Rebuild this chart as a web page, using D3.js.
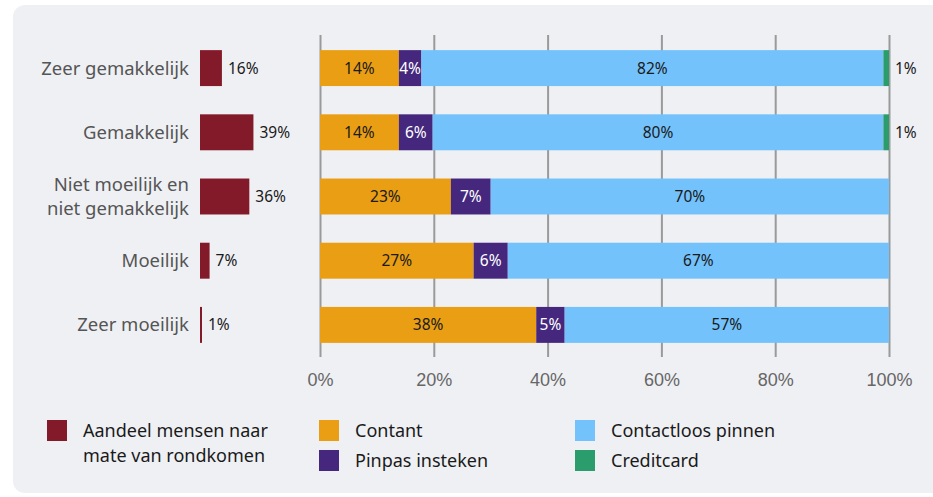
<!DOCTYPE html>
<html>
<head>
<meta charset="utf-8">
<script src="https://cdn.jsdelivr.net/npm/d3@7"></script>
<style>
  body { margin: 0; background: #fff; }
  svg { display: block; font-family: "Noto Sans", sans-serif; }
</style>
</head>
<body>
<svg id="chart" width="933" height="497"></svg>
<script>
// categories (top to bottom)
var categories = [
  ["Zeer gemakkelijk"],
  ["Gemakkelijk"],
  ["Niet moeilijk en", "niet gemakkelijk"],
  ["Moeilijk"],
  ["Zeer moeilijk"]
];

// share of people per category
var aandeel = [16, 39, 36, 7, 1];

// payment method shares per category
var contant = [14, 14, 23, 27, 38];
var pinpas = [4, 6, 7, 6, 5];
var contactloos = [82, 80, 70, 67, 57];
var creditcard = [1, 1, 0, 0, 0];

var xTicks = [0, 20, 40, 60, 80, 100];

var seriesNames = ["Contant", "Pinpas insteken", "Contactloos pinnen", "Creditcard"];
var seriesColors = ["#e99e14", "#45287e", "#73c2fb", "#2b9c6c"];
var seriesText = ["#1a1a1a", "#ffffff", "#1a1a1a", "#1a1a1a"];
var aandeelColor = "#831a2a";

document.addEventListener("DOMContentLoaded", () => {
  var svg = d3.select("#chart");

  // background panel
  svg.append("rect")
    .attr("x", 13).attr("y", 5)
    .attr("width", 940).attr("height", 488)
    .attr("rx", 12)
    .attr("fill", "#eff0f4");

  var idx = d3.range(categories.length);

  var y = d3.scaleBand()
    .domain(idx)
    .range([36, 357])
    .paddingInner(0.44)
    .paddingOuter(0.22);

  var x = d3.scaleLinear().domain([0, 100]).range([320, 889]);
  var xA = d3.scaleLinear().domain([0, 100]).range([200, 337]);

  // gridlines + axis
  var axis = d3.axisBottom(x)
    .tickValues(xTicks)
    .tickSize(322)
    .tickFormat(d => d + "%");

  var ax = svg.append("g")
    .attr("transform", "translate(0,35)")
    .call(axis);
  ax.select(".domain").remove();
  ax.selectAll(".tick line").attr("stroke", "#9a9a9a").attr("stroke-width", 2);
  ax.selectAll(".tick text")
    .attr("y", 345)
    .attr("dy", "0.35em")
    .attr("fill", "#666")
    .style("font-size", "18px");

  // category labels
  var catG = svg.append("g");
  idx.forEach(i => {
    var lines = categories[i];
    var cy = y(i) + y.bandwidth() / 2;
    var t = catG.append("text")
      .attr("text-anchor", "end")
      .attr("fill", "#555")
      .style("font-size", "18.5px");
    lines.forEach((l, j) => {
      t.append("tspan")
        .attr("x", 189)
        .attr("y", cy + (j - (lines.length - 1) / 2) * 24)
        .attr("dy", "0.35em")
        .text(l);
    });
  });

  // aandeel bars
  svg.append("g").selectAll("rect")
    .data(idx).join("rect")
    .attr("x", xA(0))
    .attr("y", i => y(i))
    .attr("width", i => Math.max(2, xA(aandeel[i]) - xA(0)))
    .attr("height", y.bandwidth())
    .attr("fill", aandeelColor);

  svg.append("g").selectAll("text")
    .data(idx).join("text")
    .attr("x", i => Math.max(xA(aandeel[i]), xA(0) + 2) + 6)
    .attr("y", i => y(i) + y.bandwidth() / 2)
    .attr("dy", "0.35em")
    .attr("fill", "#1a1a1a")
    .style("font-size", "15.5px")
    .text(i => aandeel[i] + "%");

  // stacked bars
  var rows = idx.map(i => {
    var vals = [contant[i], pinpas[i], contactloos[i], creditcard[i]];
    var total = d3.sum(vals);
    var start = 0;
    return vals.map((v, k) => {
      var seg = { i: i, k: k, v: v, x0: start / total * 100, x1: (start + v) / total * 100 };
      start += v;
      return seg;
    });
  });
  var segs = rows.flat().filter(d => d.v > 0);

  var stack = svg.append("g");
  stack.selectAll("rect")
    .data(segs).join("rect")
    .attr("x", d => x(d.x0))
    .attr("y", d => y(d.i))
    .attr("width", d => x(d.x1) - x(d.x0))
    .attr("height", y.bandwidth())
    .attr("fill", d => seriesColors[d.k]);

  stack.selectAll("text")
    .data(segs).join("text")
    .attr("x", d => d.k === 3 ? x(100) + 6 : (x(d.x0) + x(d.x1)) / 2)
    .attr("y", d => y(d.i) + y.bandwidth() / 2)
    .attr("dy", "0.35em")
    .attr("text-anchor", d => d.k === 3 ? "start" : "middle")
    .attr("fill", d => seriesText[d.k])
    .style("font-size", "15.5px")
    .text(d => d.v + "%");

  // legend
  var legendItems = [
    { name: ["Aandeel mensen naar", "mate van rondkomen"], color: aandeelColor, x: 47, y: 420 },
    { name: [seriesNames[0]], color: seriesColors[0], x: 319, y: 420 },
    { name: [seriesNames[1]], color: seriesColors[1], x: 319, y: 450 },
    { name: [seriesNames[2]], color: seriesColors[2], x: 575, y: 420 },
    { name: [seriesNames[3]], color: seriesColors[3], x: 575, y: 450 }
  ];
  var lg = svg.append("g").selectAll("g")
    .data(legendItems).join("g")
    .attr("transform", d => "translate(" + d.x + "," + d.y + ")");
  lg.append("rect")
    .attr("width", 20).attr("height", 21)
    .attr("fill", d => d.color);
  lg.each(function (d) {
    var t = d3.select(this).append("text")
      .attr("fill", "#1a1a1a")
      .style("font-size", "18px");
    d.name.forEach((l, j) => {
      t.append("tspan")
        .attr("x", 36)
        .attr("y", 11 + j * 25)
        .attr("dy", "0.35em")
        .text(l);
    });
  });
});
</script>
</body>
</html>
